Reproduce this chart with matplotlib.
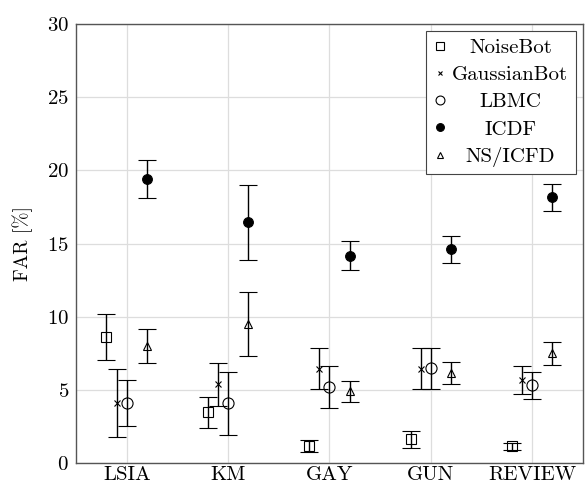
import numpy as np
import matplotlib
matplotlib.use("Agg")
import matplotlib.pyplot as plt
from matplotlib.lines import Line2D
from matplotlib.transforms import Affine2D

plt.rcParams['font.family'] = 'serif'
plt.rcParams['font.serif'] = ['cmr10', 'DejaVu Serif']
plt.rcParams['mathtext.fontset'] = 'cm'
plt.rcParams['axes.formatter.use_mathtext'] = True

datasets = ["LSIA", "KM", "GAY", "GUN", "REVIEW"]
series = ["NoiseBot", "GaussianBot", "LBMC", "ICDF", "NS/ICFD"]

# mean FAR and half-width of the error bar, one list per method
noisebot = [8.6, 3.46, 1.15, 1.62, 1.15]
noisebot_err = [1.55, 1.07, 0.40, 0.58, 0.24]
gaussianbot = [4.1, 5.38, 6.45, 6.45, 5.65]
gaussianbot_err = [2.30, 1.45, 1.38, 1.40, 0.95]
lbmc = [4.1, 4.07, 5.2, 6.47, 5.3]
lbmc_err = [1.57, 2.13, 1.42, 1.40, 0.90]
icdf = [19.4, 16.45, 14.16, 14.6, 18.15]
icdf_err = [1.30, 2.57, 1.00, 0.90, 0.90]
ns_icfd = [8.0, 9.5, 4.9, 6.15, 7.5]
ns_icfd_err = [1.14, 2.17, 0.70, 0.78, 0.78]

means = [noisebot, gaussianbot, lbmc, icdf, ns_icfd]
errs = [noisebot_err, gaussianbot_err, lbmc_err, icdf_err, ns_icfd_err]
offsets = [-0.2, -0.1, 0.0, 0.2, 0.2]
markers = ['s', 'x', 'o', 'o', '^']
sizes = [7, 4, 8, 7, 6]
faces = ['none', 'black', 'none', 'black', 'none']

fig = plt.figure(figsize=(5.87, 4.86), dpi=100)
ax = fig.add_axes([0.1295, 0.0473, 0.8635, 0.9033])

x = np.arange(len(datasets))
handles = []
for i in range(len(series)):
    ax.errorbar(x + offsets[i], means[i], yerr=errs[i], fmt=markers[i],
                color='black', ecolor='black', elinewidth=1.0,
                capsize=6.5, capthick=2.0, markersize=sizes[i],
                markerfacecolor=faces[i], markeredgewidth=0.8, zorder=3)
    handles.append(Line2D([], [], linestyle='none', marker=markers[i],
                          color='black', markerfacecolor=faces[i],
                          markersize=sizes[i] * 0.8, markeredgewidth=0.8,
                          label=series[i]))

ax.set_xlim(-0.5, 4.5)
ax.set_ylim(0, 30)
ax.set_xticks(x)
ax.set_xticklabels(datasets)
ax.set_yticks(np.arange(0, 31, 5))
ax.tick_params(labelsize=15, length=0, pad=5)
ax.tick_params(axis='x', pad=2)
ax.set_ylabel("FAR [%]", fontsize=14, labelpad=10)
ax.grid(True, color='#dddddd', linewidth=0.9, zorder=0)
ax.set_axisbelow(True)
for s in ax.spines.values():
    s.set_color('#555555')
    s.set_linewidth(1.0)

leg = ax.legend(handles=handles, loc='upper right', fontsize=15, frameon=True,
                fancybox=False, edgecolor='#444444', framealpha=1,
                handlelength=0.6, handletextpad=0.3, borderpad=0.35,
                labelspacing=0.41, borderaxespad=0.35)
leg.get_frame().set_linewidth(0.8)

# centre legend labels like pgfplots does
fig.canvas.draw()
r = fig.canvas.get_renderer()
widths = [t.get_window_extent(r).width for t in leg.get_texts()]
for t, w in zip(leg.get_texts(), widths):
    dx = (max(widths) - w) / 2
    t.set_transform(t.get_transform() + Affine2D().translate(dx, 0))

fig.savefig("out.png", dpi=100)
